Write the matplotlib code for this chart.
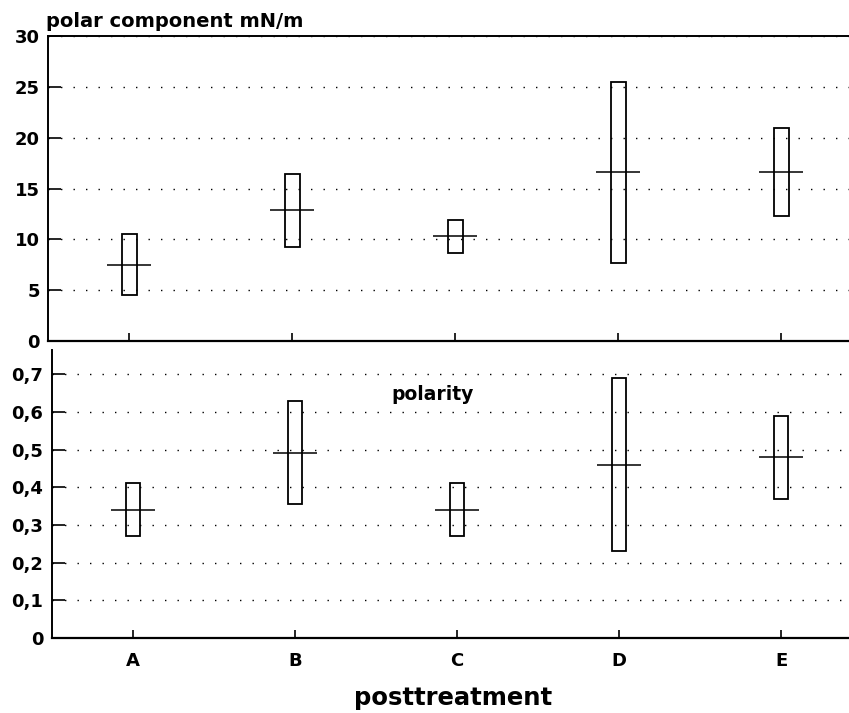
import numpy as np
import matplotlib.pyplot as plt
from matplotlib.ticker import FuncFormatter, MultipleLocator

plt.rcParams['font.family'] = ['DejaVu Sans']
plt.rcParams['font.weight'] = 'bold'

categories = ["A", "B", "C", "D", "E"]

# polar component (mN/m): box top, box bottom, mean line
polar_hi = [10.5, 16.4, 11.9, 25.5, 21.0]
polar_lo = [4.5, 9.2, 8.7, 7.7, 12.3]
polar_mean = [7.5, 12.9, 10.3, 16.6, 16.6]

# polarity: box top, box bottom, mean line
pol_hi = [0.41, 0.63, 0.41, 0.69, 0.59]
pol_lo = [0.27, 0.355, 0.27, 0.23, 0.37]
pol_mean = [0.34, 0.49, 0.34, 0.46, 0.48]

BOX_W = 0.09
MEAN_W = 0.27
GRID = dict(color="black", linewidth=1.0, linestyle=(0, (1, 8)))


def draw_boxes(ax, hi, lo, mean):
    x = np.arange(1, len(categories) + 1)
    hi = np.array(hi)
    lo = np.array(lo)
    ax.bar(x, hi - lo, bottom=lo, width=BOX_W, fill=False,
           edgecolor="black", linewidth=1.3, zorder=3)
    ax.hlines(mean, x - MEAN_W / 2, x + MEAN_W / 2, color="black",
              linewidth=1.1, zorder=4)


def comma_fmt(v, pos):
    if abs(v) < 1e-9:
        return "0"
    return f"{v:.1f}".replace(".", ",")


fig = plt.figure(figsize=(8.49, 7.13), dpi=100)
ax1 = fig.add_axes([0.0565, 0.5217, 0.95, 0.4278])
ax2 = fig.add_axes([0.061, 0.1052, 0.945, 0.4038])

for ax in (ax1, ax2):
    ax.set_xlim(0.5, 5.45)
    ax.set_xticks(np.arange(1, 6))
    ax.spines["right"].set_visible(False)
    ax.spines["left"].set_linewidth(1.4)
    ax.spines["bottom"].set_linewidth(1.6)
    ax.tick_params(axis="both", direction="in", width=1.2, labelsize=13)
    ax.tick_params(axis="y", length=9, pad=6)
    ax.tick_params(axis="x", length=6, pad=10)
    ax.yaxis.grid(True, **GRID)
    ax.set_axisbelow(True)

# top panel
draw_boxes(ax1, polar_hi, polar_lo, polar_mean)
ax1.set_ylim(0, 30)
ax1.yaxis.set_major_locator(MultipleLocator(5))
ax1.spines["top"].set_linewidth(1.4)
ax1.set_xticklabels([])
ax1.yaxis.set_major_formatter(FuncFormatter(lambda v, p: f"{v:.0f}"))
fig.text(0.054, 0.97, "polar component mN/m", fontsize=14,
         fontweight="bold", va="center", ha="left")

# bottom panel
draw_boxes(ax2, pol_hi, pol_lo, pol_mean)
ax2.set_ylim(0, 0.764)
ax2.set_yticks(np.arange(0, 0.75, 0.1))
ax2.yaxis.set_major_formatter(FuncFormatter(comma_fmt))
ax2.spines["top"].set_visible(False)
ax2.set_xticklabels(categories)
ax2.text(2.85, 0.645, "polarity", fontsize=13.5, fontweight="bold",
         ha="center", va="center")
fig.text(0.534, 0.004, "posttreatment", fontsize=17.5, fontweight="bold",
         ha="center", va="bottom")

fig.savefig("out.png", dpi=100)
